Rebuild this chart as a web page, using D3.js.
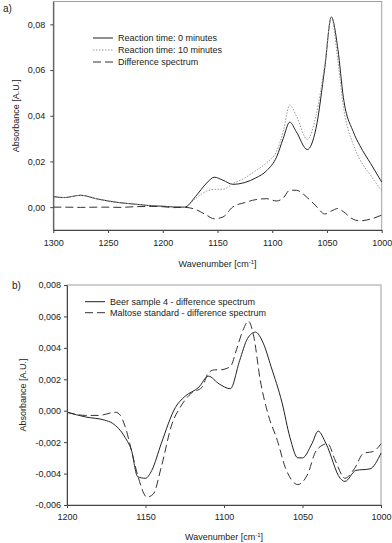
<!DOCTYPE html>
<html>
<head>
<meta charset="utf-8">
<script src="https://cdn.jsdelivr.net/npm/d3@7"></script>
<style>
  body { margin: 0; background: #fff; }
  svg text { font-family: "Liberation Sans", Arial, sans-serif; fill: #222; }
</style>
</head>
<body>
<div id="chart"></div>
<script>
// ---- panel a) data ----
var wavenumbersA = [1300, 1290, 1275, 1260, 1250, 1240, 1225, 1210, 1200, 1190, 1180, 1170, 1160, 1153, 1145, 1136,
  1125, 1115, 1105, 1096, 1090, 1084, 1078, 1068, 1060, 1052, 1046, 1040, 1035, 1026, 1020, 1010, 1000];
var reaction0 = [0.0046, 0.0042, 0.0052, 0.0036, 0.0027, 0.0020, 0.0013, 0.0006, 0.0004, 0.0001, 0.0000, 0.0047, 0.0105, 0.0131, 0.0118, 0.0100,
  0.0108, 0.0128, 0.0160, 0.0220, 0.0300, 0.0372, 0.0330, 0.0252, 0.0345, 0.0610, 0.0832, 0.0690, 0.0480, 0.0330, 0.0270, 0.0190, 0.0110];
var reaction10 = [0.0046, 0.0042, 0.0052, 0.0036, 0.0027, 0.0020, 0.0013, 0.0006, 0.0004, 0.0001, 0.0000, 0.0038, 0.0070, 0.0078, 0.0078, 0.0103,
  0.0128, 0.0160, 0.0195, 0.0245, 0.0330, 0.0447, 0.0400, 0.0296, 0.0400, 0.0625, 0.0830, 0.0640, 0.0440, 0.0275, 0.0210, 0.0138, 0.0072];
var differenceA = [0.0000, 0.0000, -0.0001, 0.0000, 0.0000, -0.0001, 0.0002, 0.0003, 0.0002, -0.0002, -0.0001, -0.0010, -0.0035, -0.0051, -0.0043, 0.0001,
  0.0020, 0.0033, 0.0037, 0.0027, 0.0040, 0.0074, 0.0074, 0.0042, 0.0005, -0.0030, -0.0017, -0.0006, -0.0020, -0.0053, -0.0060, -0.0052, -0.0035];
var xTicksA = [1300, 1250, 1200, 1150, 1100, 1050, 1000];
var yTicksA = [0, 0.02, 0.04, 0.06, 0.08];

// ---- panel b) data ----
var beerWn = [1200, 1188, 1176, 1171, 1163, 1159, 1155, 1150, 1146, 1140, 1131, 1125, 1116, 1110, 1103, 1096,
  1090, 1085, 1080, 1075, 1070, 1063, 1058, 1053, 1050, 1044, 1040, 1035, 1026, 1023, 1016, 1007, 1000];
var beerAbs = [-0.0001, -0.0004, -0.0006, -0.0008, -0.0017, -0.0025, -0.0042, -0.0043, -0.0038, -0.0021, 0.0002, 0.0009, 0.0015, 0.0022, 0.0017, 0.0014,
  0.0032, 0.0046, 0.0050, 0.0043, 0.0028, 0.0005, -0.0017, -0.0030, -0.0030, -0.0021, -0.0013, -0.0021, -0.0043, -0.0045, -0.0038, -0.0037, -0.0027];
var maltoseWn = [1200, 1188, 1180, 1169, 1166, 1163, 1159, 1155, 1149, 1145, 1140, 1133, 1128, 1121, 1114, 1110, 1106, 1103, 1096,
  1092, 1088, 1084.5, 1081, 1077, 1072, 1066, 1061, 1057, 1053, 1047, 1041, 1034, 1029, 1023, 1017, 1011, 1005, 1000];
var maltoseAbs = [-0.0001, -0.0003, -0.0003, -0.0001, -0.0003, -0.0010, -0.0025, -0.0041, -0.0055, -0.0053, -0.0036, -0.0008, 0.0002, 0.0011, 0.0015, 0.0024, 0.0026, 0.0026, 0.0028,
  0.0039, 0.0051, 0.0057, 0.0047, 0.0020, -0.0002, -0.0019, -0.0036, -0.0044, -0.0047, -0.0041, -0.0025, -0.0021, -0.0032, -0.0043, -0.0037, -0.0027, -0.0026, -0.0021];
var xTicksB = [1200, 1150, 1100, 1050, 1000];
var yTicksB = [-0.006, -0.004, -0.002, 0, 0.002, 0.004, 0.006, 0.008];

var width = 392, height = 543;
var fontSize = 9;

var svg = d3.select("#chart").append("svg")
  .attr("width", width)
  .attr("height", height);

function drawPanel(p) {
  var x = d3.scaleLinear().domain(p.xDomain).range([p.left, p.right]);
  var y = d3.scaleLinear().domain(p.yDomain).range([p.bottom, p.top]);
  var g = svg.append("g");

  // grey frame
  g.append("rect")
    .attr("x", p.left).attr("y", p.top)
    .attr("width", p.right - p.left).attr("height", p.bottom - p.top)
    .attr("fill", "none").attr("stroke", "#a0a0a0").attr("stroke-width", 1);

  var line = d3.line()
    .x(d => x(d[0]))
    .y(d => y(d[1]))
    .curve(d3.curveMonotoneX);

  p.series.forEach(function(s) {
    var pts = s.wn.map((w, i) => [w, s.values[i]]);
    g.append("path")
      .attr("d", line(pts))
      .attr("fill", "none")
      .attr("stroke", s.color)
      .attr("stroke-width", s.width)
      .attr("stroke-dasharray", s.dash);
  });

  // axes
  var xAxis = d3.axisBottom(x).tickValues(p.xTicks).tickSize(3).tickSizeOuter(0).tickPadding(p.xPad)
    .tickFormat(d3.format("d"));
  var yAxis = d3.axisLeft(y).tickValues(p.yTicks).tickSize(3).tickSizeOuter(0).tickPadding(p.yPad)
    .tickFormat(v => (Math.abs(v) < 1e-12 ? 0 : v).toFixed(p.decimals).replace(".", ","));

  var gx = g.append("g").attr("transform", `translate(0, ${p.bottom})`).call(xAxis);
  var gy = g.append("g").attr("transform", `translate(${p.left}, 0)`).call(yAxis);
  [gx, gy].forEach(function(a) {
    a.select(".domain").attr("stroke", "#444");
    a.selectAll(".tick line").attr("stroke", "#444");
    a.selectAll(".tick text")
      .style("font-family", '"Liberation Sans", Arial, sans-serif')
      .style("font-size", fontSize + "px")
      .attr("fill", "#222");
  });

  // axis titles
  var xt = g.append("text")
    .attr("x", (p.left + p.right) / 2)
    .attr("y", p.xTitleY)
    .attr("text-anchor", "middle")
    .style("font-size", fontSize + "px");
  xt.append("tspan").text("Wavenumber [cm");
  xt.append("tspan").attr("dy", -3.5).style("font-size", "6px").text("-1");
  xt.append("tspan").attr("dy", 3.5).text("]");

  g.append("text")
    .attr("transform", `translate(${p.yTitleX}, ${(p.top + p.bottom) / 2}) rotate(-90)`)
    .attr("text-anchor", "middle")
    .style("font-size", fontSize + "px")
    .text("Absorbance [A.U.]");

  g.append("text")
    .attr("x", p.labelX).attr("y", p.labelY)
    .style("font-size", "10px")
    .text(p.label);

  // legend
  p.series.forEach(function(s, i) {
    var ly = p.legendY + i * p.legendStep;
    g.append("line")
      .attr("x1", p.legendX).attr("x2", p.legendX + 20)
      .attr("y1", ly).attr("y2", ly)
      .attr("stroke", s.color)
      .attr("stroke-width", s.width)
      .attr("stroke-dasharray", s.dash);
    g.append("text")
      .attr("x", p.legendX + 25)
      .attr("y", ly + 3)
      .style("font-size", fontSize + "px")
      .text(s.name);
  });
}

drawPanel({
  label: "a)", labelX: 3, labelY: 12,
  left: 53.3, right: 381.7, top: 1.5, bottom: 230,
  xDomain: [1300, 1000], yDomain: [-0.01, 0.09],
  xTicks: xTicksA, yTicks: yTicksA, decimals: 2,
  xPad: 7, yPad: 5,
  xTitleY: 267, yTitleX: 19,
  legendX: 93, legendY: 38, legendStep: 12,
  series: [
    { name: "Reaction time: 0 minutes", wn: wavenumbersA, values: reaction0, color: "#222", width: 1, dash: null },
    { name: "Reaction time: 10 minutes", wn: wavenumbersA, values: reaction10, color: "#999", width: 1, dash: "1.5,1.5" },
    { name: "Difference spectrum", wn: wavenumbersA, values: differenceA, color: "#333", width: 1, dash: "8,4" }
  ]
});

drawPanel({
  label: "b)", labelX: 12, labelY: 289,
  left: 67, right: 381, top: 285, bottom: 505,
  xDomain: [1200, 1000], yDomain: [-0.006, 0.008],
  xTicks: xTicksB, yTicks: yTicksB, decimals: 3,
  xPad: 5.5, yPad: 3,
  xTitleY: 540, yTitleX: 26,
  legendX: 85, legendY: 301.7, legendStep: 11,
  series: [
    { name: "Beer sample 4 - difference spectrum", wn: beerWn, values: beerAbs, color: "#222", width: 1, dash: null },
    { name: "Maltose standard - difference spectrum", wn: maltoseWn, values: maltoseAbs, color: "#333", width: 1, dash: "8,4" }
  ]
});
</script>
</body>
</html>
